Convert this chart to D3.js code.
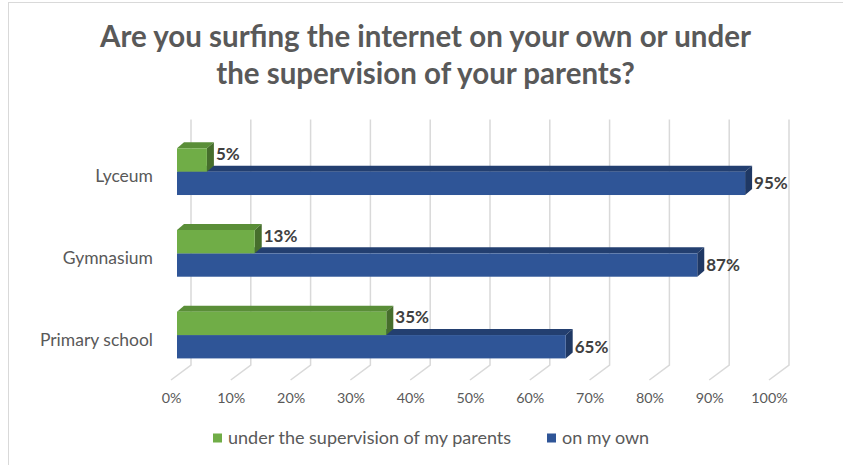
<!DOCTYPE html>
<html>
<head>
<meta charset="utf-8">
<script src="https://cdn.jsdelivr.net/npm/d3@7/dist/d3.min.js"></script>
<style>
  html, body { margin: 0; padding: 0; background: #fff; }
  svg { display: block; font-family: Lato, "Open Sans", sans-serif; }
</style>
</head>
<body>
<svg id="chart" width="843" height="465"></svg>
<script>
// Survey answers by school type (percent of pupils)
const categories = ["Lyceum", "Gymnasium", "Primary school"];
const seriesNames = ["under the supervision of my parents", "on my own"];
const supervised = [5, 13, 35];
const onOwn = [95, 87, 65];
const tickValues = [0, 10, 20, 30, 40, 50, 60, 70, 80, 90, 100];
const tickLabels = ["0%", "10%", "20%", "30%", "40%", "50%", "60%", "70%", "80%", "90%", "100%"];

const titleLines = ["Are you surfing the internet on your own or under",
                    "the supervision of your parents?"];

const palette = {
  green: { front: "#70AD47", top: "#5A8E38", side: "#466E2C" },
  blue:  { front: "#2F5597", top: "#233F70", side: "#1F3864" }
};

const svg = d3.select("#chart");

// chart frame
svg.append("rect")
  .attr("x", 8.5).attr("y", 2.5)
  .attr("width", 840).attr("height", 470)
  .attr("fill", "#fff").attr("stroke", "#D9D9D9").attr("stroke-width", 1);

// title
svg.append("g").selectAll("text").data(titleLines).join("text")
  .attr("x", 425.5)
  .attr("y", (d, i) => 47 + i * 36.5)
  .attr("text-anchor", "middle")
  .attr("font-size", 29.5)
  .attr("font-weight", 700)
  .attr("fill", "#595959")
  .text(d => d);

// scales: bar front face, back wall, and front edge of the floor
const x = d3.scaleLinear().domain([0, 100]).range([177, 775]);
const xWall = d3.scaleLinear().domain([0, 100]).range([191, 789]);
const xFloor = d3.scaleLinear().domain([0, 100]).range([171, 769]);
const wallTop = 119.5, wallBottom = 365, floorFront = 380;

const y = d3.scaleBand().domain(categories)
  .range([130.8, 375.9]).paddingInner(0.428).paddingOuter(0.214);
const ySeries = d3.scaleBand().domain(seriesNames).range([0, y.bandwidth()]);

// gridlines: up the back wall, then slanting forward across the floor
svg.append("g").selectAll("path").data(tickValues).join("path")
  .attr("d", v => `M${xWall(v)},${wallTop}V${wallBottom}L${xFloor(v)},${floorFront}`)
  .attr("fill", "none")
  .attr("stroke", "#D9D9D9")
  .attr("stroke-width", 1.5);

// value axis labels along the floor edge
const xAxis = d3.axisBottom(xFloor).tickValues(tickValues)
  .tickFormat((d, i) => tickLabels[i]).tickSize(0).tickPadding(0);
const gx = svg.append("g").attr("transform", `translate(0,${floorFront + 13})`).call(xAxis);
gx.select(".domain").remove();
gx.selectAll("text")
  .attr("font-family", "Lato, 'Open Sans', sans-serif")
  .attr("font-size", 14.3).attr("fill", "#595959");

// category axis
const yAxis = d3.axisLeft(y).tickSize(0).tickPadding(9);
const gy = svg.append("g").attr("transform", "translate(162,5)").call(yAxis);
gy.select(".domain").remove();
gy.selectAll("text")
  .attr("font-family", "Lato, 'Open Sans', sans-serif")
  .attr("font-size", 17.5).attr("fill", "#595959");

// 3D bar: front face plus top and right-hand side faces
const DX = 7, DY = -6;
function bar3d(g, v, y0, h, c) {
  const x0 = x(0), x1 = x(v);
  g.append("path")
    .attr("d", `M${x0},${y0}L${x0 + DX},${y0 + DY}L${x1 + DX},${y0 + DY}L${x1},${y0}Z`)
    .attr("fill", c.top);
  g.append("path")
    .attr("d", `M${x1},${y0}L${x1 + DX},${y0 + DY}L${x1 + DX},${y0 + h + DY}L${x1},${y0 + h}Z`)
    .attr("fill", c.side);
  g.append("rect")
    .attr("x", x0).attr("y", y0)
    .attr("width", x1 - x0).attr("height", h)
    .attr("fill", c.front);
}

const bars = svg.append("g");
categories.forEach((cat, i) => {
  const g = bars.append("g");
  const h = ySeries.bandwidth();
  // lower bar first so the upper bar overlaps its top face
  bar3d(g, onOwn[i], y(cat) + ySeries(seriesNames[1]), h, palette.blue);
  bar3d(g, supervised[i], y(cat) + ySeries(seriesNames[0]), h, palette.green);
});

// value labels
const labelData = [];
categories.forEach((cat, i) => {
  labelData.push({ v: supervised[i], cy: y(cat) + ySeries(seriesNames[0]) + ySeries.bandwidth() / 2 - 6 });
  labelData.push({ v: onOwn[i], cy: y(cat) + ySeries(seriesNames[1]) + ySeries.bandwidth() / 2 });
});
svg.append("g").selectAll("text").data(labelData).join("text")
  .attr("x", d => x(d.v) + DX + 2)
  .attr("y", d => d.cy)
  .attr("dy", "0.36em")
  .attr("font-size", 17)
  .attr("font-weight", 700)
  .attr("fill", "#404040")
  .text(d => d.v + "%");

// legend
const legendItems = [
  { name: seriesNames[0], color: palette.green.front, x: 213 },
  { name: seriesNames[1], color: palette.blue.front, x: 547 }
];
const lg = svg.append("g").selectAll("g").data(legendItems).join("g")
  .attr("transform", d => `translate(${d.x},433.5)`);
lg.append("rect").attr("width", 9).attr("height", 9).attr("fill", d => d.color);
lg.append("text")
  .attr("x", 15).attr("y", 4.5).attr("dy", "0.35em")
  .attr("font-size", 18).attr("fill", "#595959")
  .text(d => d.name);
</script>
</body>
</html>
